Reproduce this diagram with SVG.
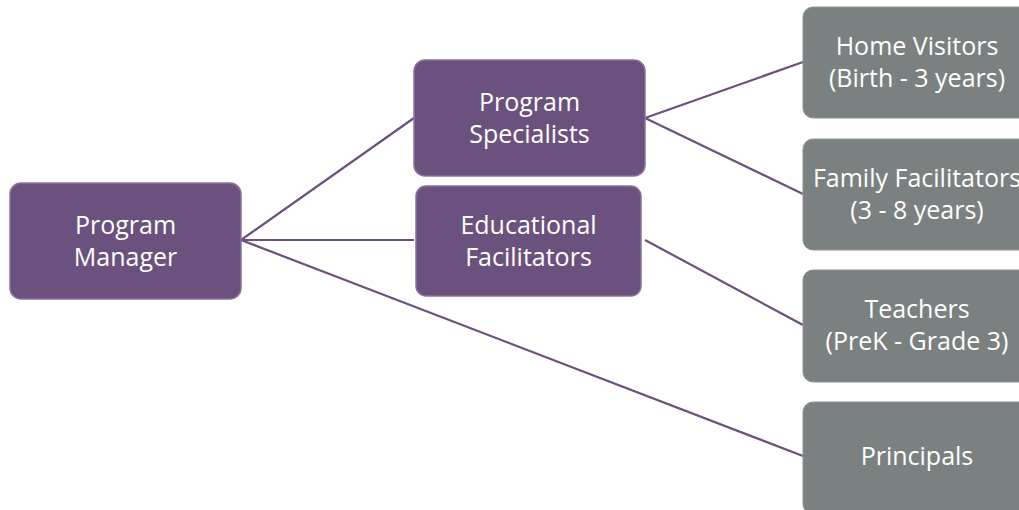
<svg xmlns="http://www.w3.org/2000/svg" width="1019" height="510" viewBox="0 0 1019 510">
<style>
.p{fill:#6b517d;stroke:#8a72a0;stroke-width:1.5}
.g{fill:#7b8181;stroke:#8d9393;stroke-width:1}
text{font-family:"Open Sans","Noto Sans",sans-serif;font-size:25px;fill:#ffffff;text-anchor:middle}
.c line{stroke:#6b517d;stroke-width:2.2}
</style>
<rect width="1019" height="510" fill="#ffffff"/>
<g class="c" id="connectors">
<line x1="241" y1="240" x2="414" y2="118"/>
<line x1="241" y1="240" x2="414" y2="240"/>
<line x1="241" y1="240" x2="803" y2="456"/>
<line x1="645" y1="118" x2="803" y2="62"/>
<line x1="645" y1="118" x2="803" y2="194"/>
<line x1="645" y1="240" x2="803" y2="325"/>
</g>
<g id="program-manager"><rect class="p" x="10" y="183" width="231" height="116" rx="11"/><text x="125.5" y="234">Program</text><text x="125.5" y="266">Manager</text></g>
<g id="program-specialists"><rect class="p" x="414" y="60" width="231" height="116" rx="11"/><text x="529.5" y="111">Program</text><text x="529.5" y="143">Specialists</text></g>
<g id="educational-facilitators"><rect class="p" x="416" y="186" width="225" height="110" rx="10"/><text x="528.5" y="234">Educational</text><text x="528.5" y="266">Facilitators</text></g>
<g id="home-visitors"><rect class="g" x="803" y="7" width="230" height="111" rx="10"/><text x="917" y="55">Home Visitors</text><text x="917" y="87">(Birth - 3 years)</text></g>
<g id="family-facilitators"><rect class="g" x="803" y="139" width="230" height="111" rx="10"/><text x="917" y="187">Family Facilitators</text><text x="917" y="219">(3 - 8 years)</text></g>
<g id="teachers"><rect class="g" x="803" y="270" width="230" height="112" rx="10"/><text x="917" y="318">Teachers</text><text x="917" y="350">(PreK - Grade 3)</text></g>
<g id="principals"><rect class="g" x="803" y="402" width="230" height="112" rx="10"/><text x="917" y="465">Principals</text></g>
</svg>
